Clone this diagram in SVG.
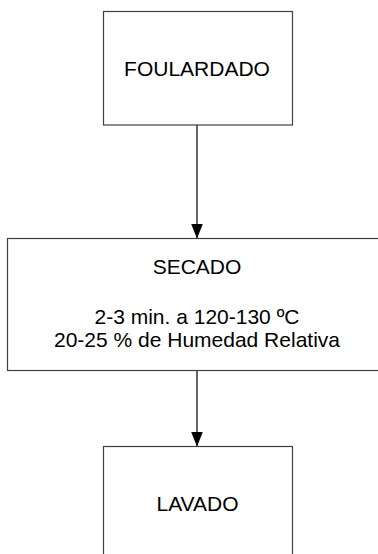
<svg xmlns="http://www.w3.org/2000/svg" width="378" height="554" viewBox="0 0 378 554">
  <style>
    .box { fill: #ffffff; stroke: #404040; stroke-width: 1.2; }
    .lbl { font-family: "Liberation Sans", Arial, sans-serif; font-size: 21px; fill: #000000; text-anchor: middle; }
    .conn { stroke: #000000; stroke-width: 1.2; fill: none; marker-end: url(#arrow); }
  </style>
  <defs>
    <marker id="arrow" markerUnits="userSpaceOnUse" markerWidth="15" markerHeight="12" refX="15" refY="6" orient="auto">
      <path d="M0,0 L15,6 L0,12 z" fill="#000000"/>
    </marker>
  </defs>
  <rect width="378" height="554" fill="#ffffff"/>
  <g id="connectors">
    <line class="conn" x1="197" y1="125" x2="197" y2="238.5"/>
    <line class="conn" x1="197" y1="370.5" x2="197" y2="446.5"/>
  </g>
  <g id="foulardado">
    <rect class="box" x="103.5" y="11.5" width="189" height="113.5"/>
    <text class="lbl" x="197" y="76">FOULARDADO</text>
  </g>
  <g id="secado">
    <rect class="box" x="7.5" y="238.5" width="380" height="132"/>
    <text class="lbl" x="197" y="273.5">SECADO</text>
    <text class="lbl" x="197" y="323.5">2-3 min. a 120-130 ºC</text>
    <text class="lbl" x="197" y="347">20-25 % de Humedad Relativa</text>
  </g>
  <g id="lavado">
    <rect class="box" x="103.5" y="446.5" width="189" height="114"/>
    <text class="lbl" x="197.5" y="511">LAVADO</text>
  </g>
</svg>
